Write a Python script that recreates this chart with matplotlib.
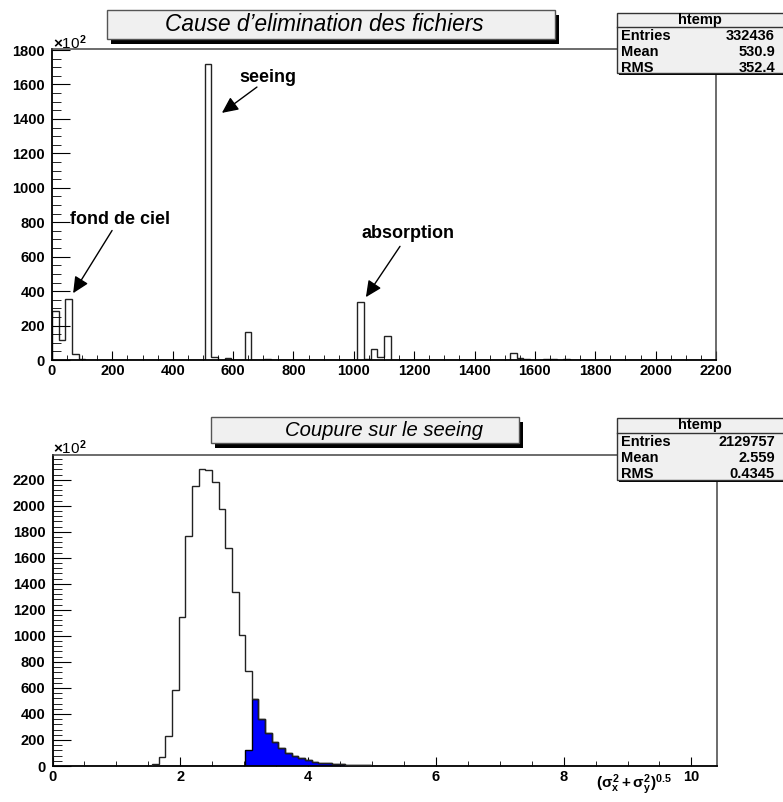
import numpy as np
import matplotlib
matplotlib.use('Agg')
import matplotlib.pyplot as plt
from matplotlib.patches import Rectangle
from matplotlib.ticker import MultipleLocator

plt.rcParams['font.family'] = ['Liberation Sans', 'DejaVu Sans']
plt.rcParams['mathtext.fontset'] = 'custom'
plt.rcParams['mathtext.rm'] = 'Liberation Sans:bold'
plt.rcParams['mathtext.it'] = 'Liberation Sans:bold'
plt.rcParams['mathtext.bf'] = 'Liberation Sans:bold'

W, H = 783, 802

# top histogram : 100 bins on [0, 2200], counts in units of 10^2
cause_nbins = 100
cause_range = (0, 2200)
cause_bins = [0, 1, 2, 3, 4, 23, 24, 26, 29, 30, 32, 40, 46, 47, 48, 49, 50, 51, 69, 70, 71, 74, 75, 76, 77]
cause_counts = [286, 115, 356, 33, 3, 1720, 20, 13, 165, 2, 3, 2, 337, 5, 64, 20, 137, 2, 38, 10, 8, 5, 5, 2, 3]
cause_stats = [('Entries', '332436'), ('Mean', '530.9'), ('RMS', '352.4')]

# bottom histogram : 100 bins on [0, 10.4]
seeing_nbins = 100
seeing_range = (0, 10.4)
seeing_bins = list(range(14, 53))
seeing_counts = [3, 13, 69, 228, 583, 1143, 1764, 2149, 2282, 2277, 2185, 1977, 1679, 1335, 1004, 729,
                 516, 359, 257, 182, 136, 103, 77, 59, 46, 33, 26, 20, 15, 12, 10, 8, 6, 4, 3, 2, 2, 1, 1]
# part removed by the cut (blue)
cut_bins = list(range(29, 53))
cut_counts = [121, 516, 359, 257, 182, 136, 103, 77, 59, 46, 33, 26, 20, 15, 12, 10, 8, 6, 4, 3, 2, 2, 1, 1]
seeing_stats = [('Entries', '2129757'), ('Mean', '2.559'), ('RMS', '0.4345')]

TICK_SIZE = 10.5
STAT_SIZE = 10.5


def fill_bins(nbins, bins, counts):
    values = np.zeros(nbins)
    values[bins] = counts
    return values


def px_rect(x0, y0, x1, y1):
    # pixel box (from top-left) -> figure fraction rect
    return [x0 / W, 1 - y1 / H, (x1 - x0) / W, (y1 - y0) / H]


def add_rect(fig, x0, y0, x1, y1, **kw):
    r = px_rect(x0, y0, x1, y1)
    fig.patches.append(Rectangle((r[0], r[1]), r[2], r[3], transform=fig.transFigure, **kw))


def style_axis(ax):
    ax.tick_params(which='both', direction='in', top=False, right=False, labelsize=TICK_SIZE)
    ax.tick_params(axis='y', which='major', length=13, pad=5)
    ax.tick_params(axis='y', which='minor', length=6.5)
    ax.tick_params(axis='x', which='major', length=6.5, pad=3)
    ax.tick_params(axis='x', which='minor', length=3.5)
    for lab in ax.get_xticklabels() + ax.get_yticklabels():
        lab.set_fontweight('bold')
    for side in ['left', 'bottom']:
        ax.spines[side].set_linewidth(1.3)
        ax.spines[side].set_color('black')
    for side in ['top', 'right']:
        ax.spines[side].set_linewidth(1.1)
        ax.spines[side].set_color('#444444')


def title_box(fig, x0, y0, x1, y1, text, xtext, size):
    add_rect(fig, x0 + 4, y0 + 5, x1 + 4, y1 + 5, facecolor='black', zorder=5)
    add_rect(fig, x0, y0, x1, y1, facecolor='#f0f0f0', edgecolor='#555555', lw=1, zorder=6)
    fig.text(xtext / W, 1 - (y0 + y1) / 2 / H, text, ha='center', va='center',
             fontsize=size, style='italic', zorder=7)


def stats_box(fig, y0, y1, ysep, rows, yrows, yhead):
    x0, x1 = 617, 790
    add_rect(fig, x0 + 2, y0 + 2, x1 + 2, y1 + 2, facecolor='black', zorder=5)
    add_rect(fig, x0, y0, x1, y1, facecolor='#f0f0f0', edgecolor='#333333', lw=1, zorder=6)
    fig.lines.append(plt.Line2D([x0 / W, 1], [1 - ysep / H] * 2, transform=fig.transFigure,
                                color='#333333', lw=1, zorder=7))
    fig.text(700 / W, 1 - yhead / H, 'htemp', ha='center', va='center', fontsize=STAT_SIZE,
             fontweight='bold', zorder=8)
    for (name, val), yr in zip(rows, yrows):
        fig.text(621 / W, 1 - yr / H, name, ha='left', va='center', fontsize=STAT_SIZE,
                 fontweight='bold', zorder=8)
        fig.text(775 / W, 1 - yr / H, val, ha='right', va='center', fontsize=STAT_SIZE,
                 fontweight='bold', zorder=8)


fig = plt.figure(figsize=(W / 100, H / 100), dpi=100)

# ---- top : cause d'elimination
ax1 = fig.add_axes(px_rect(52, 49, 716, 360))
edges1 = np.linspace(*cause_range, cause_nbins + 1)
ax1.stairs(fill_bins(cause_nbins, cause_bins, cause_counts), edges1, color='#222222', lw=1)
ax1.set_xlim(*cause_range)
ax1.set_ylim(0, 1806)
ax1.set_xticks(np.arange(0, 2201, 200))
ax1.set_yticks(np.arange(0, 1801, 200))
ax1.xaxis.set_minor_locator(MultipleLocator(50))
ax1.yaxis.set_minor_locator(MultipleLocator(50))
style_axis(ax1)

arrow = dict(arrowstyle='-|>,head_length=0.7,head_width=0.33', color='black', lw=1,
             mutation_scale=14, shrinkA=0, shrinkB=0)
ax1.text(60, 816, 'fond de ciel', fontsize=13, fontweight='bold', va='center', ha='left')
ax1.annotate('', xy=(70, 388), xytext=(199, 752), arrowprops=arrow)
ax1.text(620, 1643, 'seeing', fontsize=13, fontweight='bold', va='center', ha='left')
ax1.annotate('', xy=(563, 1435), xytext=(679, 1585), arrowprops=arrow)
ax1.text(1024, 735, 'absorption', fontsize=13, fontweight='bold', va='center', ha='left')
ax1.annotate('', xy=(1040, 365), xytext=(1153, 660), arrowprops=arrow)

fig.text(53 / W, 1 - 43 / H, r'$\times$10$^{2}$', fontsize=11, va='center', ha='left')
title_box(fig, 107, 10, 555, 39, "Cause d\u2019elimination des fichiers", 324, 16.3)
stats_box(fig, 13, 73, 27, cause_stats, [36, 52, 68], 20)

# ---- bottom : coupure sur le seeing
ax2 = fig.add_axes(px_rect(52.5, 455, 717, 766))
edges2 = np.linspace(*seeing_range, seeing_nbins + 1)
ax2.stairs(fill_bins(seeing_nbins, cut_bins, cut_counts), edges2, fill=True,
           color='#0000ff', zorder=2)
ax2.stairs(fill_bins(seeing_nbins, cut_bins, cut_counts), edges2, color='black', lw=1, zorder=3)
ax2.stairs(fill_bins(seeing_nbins, seeing_bins, seeing_counts), edges2, color='#222222', lw=1, zorder=3)
ax2.set_xlim(*seeing_range)
ax2.set_ylim(0, 2390)
ax2.set_xticks(np.arange(0, 11, 2))
ax2.set_yticks(np.arange(0, 2201, 200))
ax2.xaxis.set_minor_locator(MultipleLocator(0.5))
ax2.yaxis.set_minor_locator(MultipleLocator(40))
style_axis(ax2)

fig.text(53 / W, 1 - 448 / H, r'$\times$10$^{2}$', fontsize=11, va='center', ha='left')
fig.text(672 / W, 1 - 785 / H, r'$(\sigma_x^2 + \sigma_y^2)^{0.5}$', fontsize=11,
         ha='right', va='center')
title_box(fig, 211, 417, 519, 443, 'Coupure sur le seeing', 384, 14.6)
stats_box(fig, 418, 480, 433, seeing_stats, [442, 458, 474], 425)

fig.savefig('out.png', dpi=100)
